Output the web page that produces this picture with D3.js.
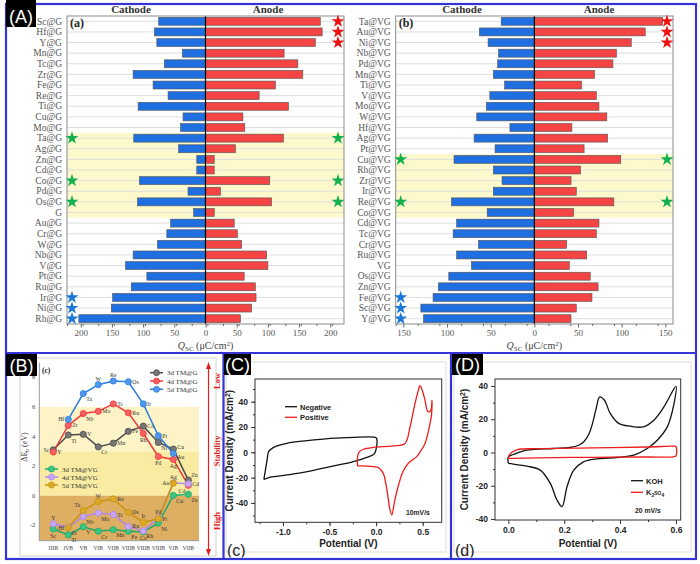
<!DOCTYPE html>
<html><head><meta charset="utf-8">
<script src="https://cdn.jsdelivr.net/npm/d3@7"></script>
<style>body{margin:0;background:#fff}svg{display:block}</style>
</head><body><svg id="c" width="700" height="564"></svg>
<script>
// ---------- DATA ----------
// Panel (a): Q_SC of TM@G
const catsA = ["Sc@G","Hf@G","Y@G","Mn@G","Tc@G","Zr@G","Fe@G","Re@G","Ti@G","Cu@G","Mo@G","Ta@G","Ag@G","Zn@G","Cd@G","Co@G","Pd@G","Os@G","G","Au@G","Cr@G","W@G","Nb@G","V@G","Pt@G","Ru@G","Ir@G","Ni@G","Rh@G"];
const cathodeA = [75,82,78,37,66,116,84,60,108,36,40,115,43,14,14,106,28,109,19,56,62,77,116,128,94,119,149,151,203];
const anodeA   = [184,187,176,126,148,156,112,86,133,60,63,125,48,14,14,103,24,106,14,46,51,58,98,100,62,80,81,74,56];
const redStarsA = ["Sc@G","Hf@G","Y@G"];
const greenStarsA = ["Ta@G","Co@G","Os@G"];
const blueStarsA = ["Ir@G","Ni@G","Rh@G"];
const bandA = ["Ta@G","G"];
const ticksA = [-200,-150,-100,-50,0,50,100,150,200];

// Panel (b): Q_SC of TM@VG
const catsB = ["Ta@VG","Au@VG","Ni@VG","Nb@VG","Pd@VG","Mn@VG","Ti@VG","V@VG","Mo@VG","W@VG","Hf@VG","Ag@VG","Pt@VG","Cu@VG","Rh@VG","Zr@VG","Ir@VG","Re@VG","Co@VG","Cd@VG","Tc@VG","Cr@VG","Ru@VG","VG","Os@VG","Zn@VG","Fe@VG","Sc@VG","Y@VG"];
const cathodeB = [38,63,53,41,42,47,34,51,55,66,28,69,45,92,47,37,47,95,54,89,93,64,89,72,98,110,116,130,127];
const anodeB   = [147,127,111,94,90,69,54,71,74,83,43,84,57,99,53,42,48,91,45,74,71,37,60,40,64,73,66,48,42];
const redStarsB = ["Ta@VG","Au@VG","Ni@VG"];
const greenStarsB = ["Cu@VG","Re@VG"];
const blueStarsB = ["Fe@VG","Sc@VG","Y@VG"];
const bandB = ["Cu@VG","Co@VG"];
const ticksB = [-150,-100,-50,0,50,100,150];

// Panel (c): ΔE_b by group
const groupsC = ["IIIB","IVB","VB","VIB","VIIB","VIIIB","VIIIB","VIIIB","VIB","VIIB"];
const yTicksC = [-2,0,2,4,6,8];
const el3d = ["Sc","Ti","V","Cr","Mn","Fe","Co","Ni","Cu","Zn"];
const el4d = ["Y","Zr","Nb","Mo","Tc","Ru","Rh","Pd","Ag","Cd"];
const el5d = [null,"Hf","Ta","W","Re","Os","Ir","Pt","Au",null];
const dE3dG  = [3.1,4.1,4.15,3.3,3.55,4.35,4.7,3.6,3.15,1.05];
const dE4dG  = [2.95,4.75,5.55,5.7,6.2,5.6,4.2,2.65,2.45,0.7];
const dE5dG  = [null,5.15,6.9,7.5,7.75,7.7,6.2,4.05,2.85,null];
const dE3dVG = [-2.25,-2.65,-2.1,-2.4,-2.3,-2.4,-2.45,-1.85,0.02,0.1];
const dE4dVG = [-1.9,-2.12,-1.4,-1.17,-1.27,-2.08,-2.38,-1.5,0.87,0.8];
const dE5dVG = [null,-2.15,-1.0,-0.4,-0.22,-1.12,-1.8,-1.55,0.85,null];

// Panel (C): CV curves
const negE = [-1.205,-1.17,-1.154,-1.1,-0.957,-0.74,-0.49,-0.243,-0.011,0.005,0.005,-0.021,-0.1,-0.243,-0.49,-0.74,-0.957,-1.136,-1.205];
const negJ = [-21.5,-6,0.5,3.9,7.1,9.2,11,11.8,11.8,11,4.5,-1.3,-4,-7.4,-11.3,-15.3,-17.9,-19.7,-21.5];
const posE = [-0.2,-0.2,-0.185,-0.136,-0.03,0.186,0.31,0.364,0.418,0.45,0.471,0.495,0.525,0.556,0.586,0.6,0.595,0.571,0.525,0.47,0.436,0.346,0.29,0.24,0.2,0.168,0.145,0.132,0.105,0.079,0.04,0.007,-0.1,-0.2];
const posJ = [-10.8,-4.7,0,2.4,3.9,5,7,20,38.7,48,52.6,49,41,32,33,41,30,20,7,0,-3.4,-8.7,-15,-26,-38,-49.5,-44,-37.6,-25,-17,-13,-11.8,-10.9,-10.8];
const xTicksC = [-1.0,-0.5,0.0,0.5];
const yTicksCV = [-40,-20,0,20,40];

// Panel (D)
const kohE = [0,0,0.018,0.066,0.16,0.22,0.25,0.27,0.288,0.302,0.315,0.327,0.344,0.365,0.395,0.437,0.483,0.521,0.557,0.6,0.593,0.569,0.533,0.497,0.449,0.389,0.317,0.269,0.234,0.21,0.192,0.174,0.15,0.114,0.066,0.018,0];
const kohJ = [-6.6,-2.6,-1.2,1.4,2.4,3,4.2,6.5,11,18,27,33.4,31.4,23.4,17.5,15.8,15.4,19.4,27.4,39.8,29.4,15.4,7.4,2.4,-1.6,-3,-3.8,-5.6,-10.6,-20.6,-32.6,-28.6,-18.6,-10.6,-8.2,-7,-6.6];
const k2E = [0,0.005,0.03,0.1,0.3,0.5,0.59,0.6,0.6,0.59,0.5,0.3,0.1,0.02,0];
const k2J = [-3.5,-1,1.6,2.3,2.8,3.3,3.8,3.6,-2,-2.6,-2.7,-2.9,-3.2,-3.5,-3.5];
const xTicksD = [0.0,0.2,0.4,0.6];
const yTicksD = [-40,-20,0,20,40];

// ---------- DRAWING ----------
const svg = d3.select("#c");
const SERIF = "'Liberation Serif','Times New Roman',serif";
const SANS = "'Liberation Sans',Arial,sans-serif";
const FRAME = "#3434d6";

function star(g, x, y, color){
  g.append("path").attr("d", d3.symbol(d3.symbolStar, 52)()).attr("transform",`translate(${x},${y})`).attr("fill",color);
}

function barPanel(o){
  const g = svg.append("g");
  const x = d3.scaleLinear().domain([-o.max,o.max]).range([o.L,o.R]);
  const y = d3.scaleBand().domain(o.cats).range([16,324]).paddingInner(0.25).paddingOuter(0.125);
  const bw = y.bandwidth(), gap = (y.step()-bw)/2;
  g.append("rect").attr("x",o.L).attr("width",o.R-o.L)
    .attr("y",y(o.band[0])-gap).attr("height",y(o.band[1])+bw+gap-(y(o.band[0])-gap))
    .attr("fill","#fdf9cc");
  g.selectAll(".rl").data(o.cats).join("line")
    .attr("x1",o.L).attr("x2",o.R).attr("y1",d=>y(d)+bw/2).attr("y2",d=>y(d)+bw/2)
    .attr("stroke","#dedede").attr("stroke-width",1);
  g.selectAll(".cb").data(o.cats).join("rect")
    .attr("x",(d,i)=>x(-o.cath[i])).attr("width",(d,i)=>x(0)-x(-o.cath[i]))
    .attr("y",d=>y(d)).attr("height",bw).attr("fill","#1f6fe0").attr("stroke","#555").attr("stroke-width",0.6);
  g.selectAll(".ab").data(o.cats).join("rect")
    .attr("x",x(0)).attr("width",(d,i)=>x(o.an[i])-x(0))
    .attr("y",d=>y(d)).attr("height",bw).attr("fill","#f44444").attr("stroke","#555").attr("stroke-width",0.6);
  g.append("line").attr("x1",x(0)).attr("x2",x(0)).attr("y1",16).attr("y2",324).attr("stroke","#000").attr("stroke-width",1.2);
  g.append("rect").attr("x",o.L).attr("y",16).attr("width",o.R-o.L).attr("height",308).attr("fill","none").attr("stroke","#8a8a8a");
  g.selectAll(".lb").data(o.cats).join("text")
    .attr("x",o.L-5).attr("y",d=>y(d)+bw/2+3.2).attr("text-anchor","end")
    .attr("font-family",SERIF).attr("font-size",9.5).attr("fill","#555").text(d=>d);
  o.red.forEach(c=>star(g,o.R-6,y(c)+bw/2,"#ee1111"));
  o.green.forEach(c=>{star(g,o.L+5,y(c)+bw/2,"#12b14e");star(g,o.R-6,y(c)+bw/2,"#12b14e");});
  o.blue.forEach(c=>star(g,o.L+5,y(c)+bw/2,"#1a78d6"));
  const minor = d3.range(-o.max, o.max+1, 25).filter(v=>Math.abs(v)<=o.max && v%50!==0);
  g.append("g").attr("transform","translate(0,324)")
    .call(d3.axisBottom(x).tickValues(minor).tickFormat("").tickSize(2).tickSizeOuter(0))
    .call(a=>a.select(".domain").remove()).selectAll("line").attr("stroke","#666");
  const ax = g.append("g").attr("transform","translate(0,324)")
    .call(d3.axisBottom(x).tickValues(o.ticks).tickFormat(d=>Math.abs(d)).tickSize(3.5).tickPadding(2.5).tickSizeOuter(0));
  ax.select(".domain").remove();
  ax.selectAll("line").attr("stroke","#666");
  ax.selectAll("text").attr("font-family",SERIF).attr("font-size",9).attr("fill","#555");
  const t = g.append("text").attr("x",x(0)).attr("y",349).attr("text-anchor","middle")
    .attr("font-family",SERIF).attr("font-size",10).attr("fill","#444");
  t.append("tspan").attr("font-style","italic").text("Q");
  t.append("tspan").attr("font-size",7).attr("dy",2).text("SC");
  t.append("tspan").attr("dy",-2).text(" (μC/cm");
  t.append("tspan").attr("font-size",7).attr("dy",-3).text("2");
  t.append("tspan").attr("dy",3).text(")");
  g.append("text").attr("x",o.cathX).attr("y",13).attr("text-anchor","middle").attr("font-family",SERIF)
    .attr("font-weight","bold").attr("font-size",11).attr("fill","#333").text("Cathode");
  g.append("text").attr("x",o.anX).attr("y",13).attr("text-anchor","middle").attr("font-family",SERIF)
    .attr("font-weight","bold").attr("font-size",11).attr("fill","#333").text("Anode");
  g.append("text").attr("x",o.L+3).attr("y",27).attr("font-family",SERIF)
    .attr("font-weight","bold").attr("font-size",12).attr("fill","#222").text(o.tag);
}

barPanel({cats:catsA,cath:cathodeA,an:anodeA,max:222,L:67,R:344,ticks:ticksA,band:bandA,
  red:redStarsA,green:greenStarsA,blue:blueStarsA,cathX:131,anX:268,tag:"(a)"});
barPanel({cats:catsB,cath:cathodeB,an:anodeB,max:158.8,L:395.7,R:673,ticks:ticksB,band:bandB,
  red:redStarsB,green:greenStarsB,blue:blueStarsB,cathX:462,anX:599,tag:"(b)"});

// ---------- Panel (c) ----------
(function(){
  const g = svg.append("g");
  const L=39.3,R=199,T=362.5,B=540.7;
  const x = d3.scaleLinear().domain([-0.93,9.71]).range([L,R]);
  const y = d3.scaleLinear().domain([-3.04,9]).range([B,T]);
  g.append("rect").attr("x",20).attr("y",358).attr("width",196).attr("height",198).attr("fill","#fff").attr("stroke","#d0d0d0");
  g.append("rect").attr("x",L).attr("width",R-L).attr("y",y(6)).attr("height",y(3)-y(6)).attr("fill","#fcf3c6");
  g.append("rect").attr("x",L).attr("width",R-L).attr("y",y(3)).attr("height",y(0)-y(3)).attr("fill","#f9eca2");
  g.append("rect").attr("x",L).attr("width",R-L).attr("y",y(0)).attr("height",B-y(0)).attr("fill","#deae62");
  g.append("path").attr("d",`M${L},${T}V${B}H${R}`).attr("fill","none").attr("stroke","#999");
  g.selectAll(".yt").data(yTicksC).join("text").attr("x",L-4).attr("y",d=>y(d)+2).attr("text-anchor","end")
    .attr("font-family",SERIF).attr("font-size",6.5).attr("fill","#444").text(d=>d);
  g.selectAll(".xt").data(groupsC).join("text").attr("x",(d,i)=>x(i)).attr("y",550).attr("text-anchor","middle")
    .attr("font-family",SERIF).attr("font-size",5.6).attr("fill","#444").text(d=>d);
  const yl = g.append("text").attr("transform",`translate(27,447) rotate(-90)`).attr("text-anchor","middle")
    .attr("font-family",SERIF).attr("font-size",8).attr("fill","#333");
  yl.append("tspan").text("ΔE");
  yl.append("tspan").attr("font-size",5.5).attr("dy",1.5).text("b");
  yl.append("tspan").attr("dy",-1.5).text(" (eV)");
  g.append("text").attr("x",42).attr("y",373).attr("font-family",SERIF).attr("font-weight","bold").attr("font-size",7.5).attr("fill","#222").text("(c)");

  const series = [
    {v:dE3dG, el:el3d, c:"#4a4a4a", f:"#777", pos:["l","br","r","br","r","r","r","br","ra","ar"]},
    {v:dE4dG, el:el4d, c:"#f03a3a", f:"#f56060", pos:["r","r","br","r","r","r","b","b","b","bl"]},
    {v:dE5dG, el:el5d, c:"#2a7de0", f:"#4f98ee", pos:[null,"l","br","a","a","r","r","r","rb",null]},
    {v:dE3dVG, el:el3d, c:"#1fa86a", f:"#3cc585", pos:["b","br","br","br","br","br","b","br","br","br"]},
    {v:dE4dVG, el:el4d, c:"#b088ee", f:"#c7a6f5", pos:["a","br","br","br","r","r","br","a","a","r"]},
    {v:dE5dVG, el:el5d, c:"#c8940c", f:"#dcaa28", pos:[null,"l","al","a","r","r","a","r","l",null]}
  ];
  const off = {r:[4,2,"start"],ra:[4,0,"start"],rb:[4,5.5,"start"],l:[-4,2,"end"],a:[0,-4,"middle"],b:[0,8.5,"middle"],br:[3,7.5,"start"],bl:[-3,7.5,"end"],ar:[3,-3,"start"],al:[-3,-3.5,"end"]};
  const line = d3.line().defined(d=>d.v!=null).x(d=>x(d.i)).y(d=>y(d.v));
  series.forEach(s=>{
    const pts = s.v.map((v,i)=>({v,i,el:s.el[i],p:s.pos[i]}));
    g.append("path").attr("d",line(pts)).attr("fill","none").attr("stroke",s.c).attr("stroke-width",1.5);
  });
  series.forEach(s=>{
    const pts = s.v.map((v,i)=>({v,i,el:s.el[i],p:s.pos[i]})).filter(d=>d.v!=null);
    g.selectAll(null).data(pts).join("circle").attr("cx",d=>x(d.i)).attr("cy",d=>y(d.v)).attr("r",3.1)
      .attr("fill",s.f).attr("stroke",s.c).attr("stroke-width",0.8);
  });
  series.forEach(s=>{
    const pts = s.v.map((v,i)=>({v,i,el:s.el[i],p:s.pos[i]})).filter(d=>d.v!=null);
    g.selectAll(null).data(pts).join("text").attr("x",d=>x(d.i)+off[d.p][0]).attr("y",d=>y(d.v)+off[d.p][1])
      .attr("text-anchor",d=>off[d.p][2]).attr("font-family",SERIF).attr("font-size",5.8).attr("fill","#333").text(d=>d.el);
  });
  const leg = (items, lx, ly0, dy)=>{
    items.forEach((it,k)=>{
      const yy = ly0 + k*dy;
      g.append("line").attr("x1",lx).attr("x2",lx+13).attr("y1",yy).attr("y2",yy).attr("stroke",it.c).attr("stroke-width",1.5);
      g.append("circle").attr("cx",lx+6.5).attr("cy",yy).attr("r",3).attr("fill",it.f).attr("stroke",it.c).attr("stroke-width",0.8);
      g.append("text").attr("x",lx+17).attr("y",yy+2.5).attr("font-family",SERIF).attr("font-size",7).attr("fill","#333").text(it.t);
    });
  };
  leg([{c:series[0].c,f:series[0].f,t:"3d TM@G"},{c:series[1].c,f:series[1].f,t:"4d TM@G"},{c:series[2].c,f:series[2].f,t:"5d TM@G"}],150,372.7,8.3);
  leg([{c:series[3].c,f:series[3].f,t:"3d TM@VG"},{c:series[4].c,f:series[4].f,t:"4d TM@VG"},{c:series[5].c,f:series[5].f,t:"5d TM@VG"}],45,469,8);
  const ax=208.5;
  g.append("line").attr("x1",ax).attr("x2",ax).attr("y1",368).attr("y2",550).attr("stroke","#e31b1b").attr("stroke-width",1.2);
  g.append("path").attr("d",`M${ax-2.5},${369}L${ax},${362}L${ax+2.5},${369}Z`).attr("fill","#e31b1b");
  g.append("path").attr("d",`M${ax-2.5},${549}L${ax},${556}L${ax+2.5},${549}Z`).attr("fill","#e31b1b");
  [["Low",381],["Stability",451],["High",521]].forEach(([t,yy])=>{
    g.append("text").attr("transform",`translate(220,${yy}) rotate(-90)`).attr("text-anchor","middle")
      .attr("font-family",SERIF).attr("font-weight","bold").attr("font-size",8.5).attr("fill","#e31b1b").text(t);
  });
})();

// ---------- CV panels ----------
function cvPanel(o){
  const g = svg.append("g");
  const x = d3.scaleLinear().domain(o.xd).range([o.L,o.R]);
  const y = d3.scaleLinear().domain(o.yd).range([o.B,o.T]);
  const clipId = "clip"+o.id;
  svg.append("clipPath").attr("id",clipId).append("rect").attr("x",o.px).attr("y",355).attr("width",o.pw).attr("height",202.5);
  const cg = g.append("g").attr("clip-path",`url(#${clipId})`);
  cg.append("rect").attr("x",o.px+2).attr("y",362).attr("width",o.pw-6).attr("height",190).attr("fill","#fff").attr("stroke","#ddd");
  const ln = d3.line().x(d=>x(d[0])).y(d=>y(d[1])).curve(d3.curveCatmullRom.alpha(0.5));
  o.curves.forEach(c=>{
    g.append("path").attr("d",ln(c.E.map((e,i)=>[e,c.J[i]]))).attr("fill","none").attr("stroke",c.color).attr("stroke-width",1.3);
  });
  g.append("rect").attr("x",o.L).attr("y",o.T).attr("width",o.R-o.L).attr("height",o.B-o.T).attr("fill","none").attr("stroke","#333").attr("stroke-width",1);
  const styleAx = a=>{a.select(".domain").remove();a.selectAll("line").attr("stroke","#333");
    a.selectAll("text").attr("font-family",SANS).attr("font-weight","bold").attr("font-size",8.5).attr("fill","#222");};
  g.append("g").attr("transform",`translate(0,${o.B})`).call(d3.axisBottom(x).tickValues(o.xminor).tickFormat("").tickSize(2)).call(styleAx);
  g.append("g").attr("transform",`translate(${o.L},0)`).call(d3.axisLeft(y).tickValues(o.yminor).tickFormat("").tickSize(2)).call(styleAx);
  g.append("g").attr("transform",`translate(0,${o.B})`).call(d3.axisBottom(x).tickValues(o.xt).tickFormat(d=>d.toFixed(1)).tickSize(4).tickPadding(3)).call(styleAx);
  g.append("g").attr("transform",`translate(${o.L},0)`).call(d3.axisLeft(y).tickValues(o.yt).tickFormat(d=>String(d)).tickSize(4).tickPadding(3)).call(styleAx);
  g.append("text").attr("x",(o.L+o.R)/2).attr("y",547).attr("text-anchor","middle").attr("font-family",SANS)
    .attr("font-weight","bold").attr("font-size",10).attr("fill","#222").text("Potential (V)");
  const yl = g.append("text").attr("transform",`translate(${o.ylx},${(o.T+o.B)/2}) rotate(-90)`).attr("text-anchor","middle")
    .attr("font-family",SANS).attr("font-weight","bold").attr("font-size",10).attr("fill","#222");
  yl.append("tspan").text("Current Density (mA/cm");
  yl.append("tspan").attr("font-size",7).attr("dy",-3.5).text("2");
  yl.append("tspan").attr("dy",3.5).text(")");
  o.legend.forEach((it,k)=>{
    const yy = o.legY + k*o.legDy;
    g.append("line").attr("x1",o.legX).attr("x2",o.legX+12).attr("y1",yy).attr("y2",yy).attr("stroke",it.color).attr("stroke-width",1.3);
    const t = g.append("text").attr("x",o.legX+15).attr("y",yy+3).attr("font-family",SANS).attr("font-weight","bold").attr("font-size",7.5).attr("fill","#222");
    it.parts.forEach(p=>{const s=t.append("tspan").text(p[0]); if(p[1]) s.attr("font-size",5).attr("dy",p[1]);});
  });
  g.append("text").attr("x",o.rateX).attr("y",o.rateY).attr("font-family",SANS).attr("font-weight","bold").attr("font-size",6.8).attr("fill","#222").text(o.rate);
  cg.append("text").attr("x",o.px+3).attr("y",556).attr("font-family",SANS).attr("font-size",16).attr("fill","#222").text(o.tag);
}

cvPanel({id:"C",px:224,pw:226,L:255,R:441.7,T:379,B:522.3,xd:[-1.3,0.704],yd:[-55.3,57.9],
  xt:xTicksC,yt:yTicksCV,xminor:d3.range(-1.25,0.7,0.25),yminor:d3.range(-50,57,10),ylx:233,
  curves:[{E:negE,J:negJ,color:"#111"},{E:posE,J:posJ,color:"#ee1c1c"}],
  legend:[{color:"#111",parts:[["Negative"]]},{color:"#ee1c1c",parts:[["Positive"]]}],legX:285,legY:406.7,legDy:10.6,
  rate:"10mV/s",rateX:406,rateY:515,tag:"(c)"});
cvPanel({id:"D",px:452,pw:243,L:495,R:680.7,T:379,B:520,xd:[-0.048,0.617],yd:[-40.6,44.2],
  xt:xTicksD,yt:yTicksD,xminor:d3.range(0.1,0.6,0.2),yminor:d3.range(-30,44,20),ylx:468,
  curves:[{E:kohE,J:kohJ,color:"#111"},{E:k2E,J:k2J,color:"#ee1c1c"}],
  legend:[{color:"#111",parts:[["KOH"]]},{color:"#ee1c1c",parts:[["K"],["2",2],["SO",-2],["4",2]]}],legX:631,legY:480.7,legDy:11.6,
  rate:"20 mV/s",rateX:635,rateY:513,tag:"(d)"});

// ---------- Frame & panel labels ----------
const fr = svg.append("g").attr("stroke",FRAME).attr("stroke-width",2.2).attr("fill","none");
fr.append("rect").attr("x",6).attr("y",4).attr("width",690).attr("height",555);
fr.append("line").attr("x1",6).attr("x2",696).attr("y1",353).attr("y2",353);
fr.append("line").attr("x1",223.5).attr("x2",223.5).attr("y1",353).attr("y2",559);
fr.append("line").attr("x1",451).attr("x2",451).attr("y1",353).attr("y2",559);
[["(A)",6,0,30,27],["(B)",6,354,31,22],["(C)",224,354,27,21],["(D)",452,354,31,21]].forEach(([t,bx,by,bw,bh])=>{
  svg.append("rect").attr("x",bx).attr("y",by).attr("width",bw).attr("height",bh).attr("fill","#000");
  svg.append("text").attr("x",bx+bw/2).attr("y",by+bh-4.5).attr("text-anchor","middle").attr("font-family",SANS)
    .attr("font-size",18).attr("fill","#fff").text(t);
});
</script></body></html>
